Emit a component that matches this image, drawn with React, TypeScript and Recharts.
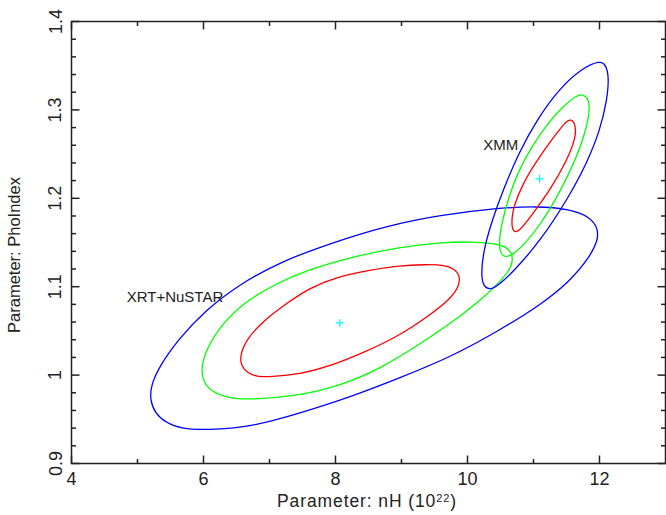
import { ComposedChart, Line, Scatter, XAxis, YAxis, ReferenceArea, ReferenceDot } from 'recharts';

// contour points: [nH, PhoIndex]
const xrtRed: [number, number][] = [
  [7.008, 0.998], [7.462, 1.001], [7.917, 1.01], [8.447, 1.026], [8.977, 1.045], [9.432, 1.068],
  [9.735, 1.086], [9.871, 1.1], [9.886, 1.112], [9.811, 1.12], [9.629, 1.125], [9.356, 1.125],
  [8.977, 1.124], [8.523, 1.119], [8.018, 1.111], [7.614, 1.099], [7.235, 1.08], [6.886, 1.06],
  [6.659, 1.041], [6.553, 1.023], [6.568, 1.01], [6.674, 1.002], [6.826, 0.998],
];
const xrtGreen: [number, number][] = [
  [6.705, 0.972], [7.462, 0.977], [8.068, 0.988], [8.674, 1.007], [9.28, 1.035], [9.811, 1.062],
  [10.265, 1.089], [10.538, 1.109], [10.674, 1.123], [10.689, 1.136], [10.598, 1.145], [10.402, 1.149],
  [10.038, 1.151], [9.583, 1.15], [8.977, 1.145], [8.265, 1.134], [7.614, 1.12], [7.083, 1.103],
  [6.629, 1.083], [6.28, 1.058], [6.053, 1.031], [5.962, 1.009], [5.992, 0.992], [6.129, 0.981],
  [6.371, 0.974],
];
const xrtBlue: [number, number][] = [
  [6.048, 0.938], [6.705, 0.941], [7.462, 0.957], [8.22, 0.975], [8.977, 0.997], [9.735, 1.02],
  [10.492, 1.051], [11.098, 1.079], [11.553, 1.106], [11.856, 1.134], [11.977, 1.153], [11.977, 1.166],
  [11.856, 1.179], [11.553, 1.188], [11.053, 1.191], [10.447, 1.189], [9.583, 1.181], [8.78, 1.169],
  [7.917, 1.149], [7.159, 1.128], [6.553, 1.103], [6.023, 1.073], [5.614, 1.04], [5.341, 1.011],
  [5.205, 0.989], [5.189, 0.972], [5.265, 0.957], [5.432, 0.946], [5.674, 0.939],
];
const xmmRed: [number, number][] = [
  [11.568, 1.29], [11.636, 1.284], [11.644, 1.269], [11.508, 1.243], [11.25, 1.209], [10.992, 1.183],
  [10.765, 1.16], [10.674, 1.163], [10.67, 1.178], [10.705, 1.192], [10.841, 1.217], [11.053, 1.243],
  [11.295, 1.268], [11.477, 1.286],
];
const xmmGreen: [number, number][] = [
  [11.75, 1.318], [11.826, 1.313], [11.856, 1.303], [11.811, 1.281], [11.659, 1.247], [11.417, 1.209],
  [11.098, 1.169], [10.871, 1.149], [10.689, 1.136], [10.568, 1.133], [10.492, 1.138], [10.477, 1.153],
  [10.523, 1.173], [10.614, 1.199], [10.765, 1.23], [10.962, 1.257], [11.205, 1.284], [11.447, 1.304],
  [11.644, 1.316],
];
const xmmBlue: [number, number][] = [
  [12.008, 1.356], [12.098, 1.351], [12.144, 1.337], [12.114, 1.311], [12.008, 1.277], [11.811, 1.24],
  [11.508, 1.198], [11.114, 1.153], [10.72, 1.119], [10.492, 1.103], [10.341, 1.096], [10.25, 1.1],
  [10.205, 1.111], [10.235, 1.139], [10.371, 1.175], [10.553, 1.212], [10.78, 1.252], [11.068, 1.291],
  [11.402, 1.325], [11.735, 1.347],
];
const bestFits: [number, number][] = [[8.065, 1.059], [11.093, 1.222]];

const xTicks = [4, 5, 6, 7, 8, 9, 10, 11, 12];
const xMajor = [4, 6, 8, 10, 12];
const yTicks = [
  0.9, 0.92, 0.94, 0.96, 0.98, 1, 1.02, 1.04, 1.06, 1.08, 1.1, 1.12, 1.14, 1.16, 1.18,
  1.2, 1.22, 1.24, 1.26, 1.28, 1.3, 1.32, 1.34, 1.36, 1.38, 1.4,
];
const yMajor = [0.9, 1, 1.1, 1.2, 1.3, 1.4];

const pts = (a: [number, number][]) => a.map(([x, y]) => ({ x, y }));

const LEFT = 71.5, RIGHT = 665.5, TOP = 21.5, BOTTOM = 463.5;
const INK = '#222';

function XTick({ x, payload }: any) {
  const major = xMajor.includes(payload.value);
  const len = major ? 8 : 4.5;
  return (
    <g>
      <line x1={x} x2={x} y1={BOTTOM} y2={BOTTOM - len} stroke={INK} strokeWidth={1.5} />
      <line x1={x} x2={x} y1={TOP} y2={TOP + len} stroke={INK} strokeWidth={1.5} />
      {major && (
        <text x={x} y={485} textAnchor="middle" fontSize={18} fill={INK}>{payload.value}</text>
      )}
    </g>
  );
}

function YTick({ y, payload }: any) {
  const major = yMajor.some((m) => Math.abs(m - payload.value) < 1e-6);
  const len = major ? 8 : 4.5;
  return (
    <g>
      <line x1={LEFT} x2={LEFT + len} y1={y} y2={y} stroke={INK} strokeWidth={1.5} />
      <line x1={RIGHT} x2={RIGHT - len} y1={y} y2={y} stroke={INK} strokeWidth={1.5} />
      {major && (
        <text x={61.5} y={y} transform={`rotate(-90 61.5 ${y})`} textAnchor="middle" fontSize={18} fill={INK}>
          {payload.value}
        </text>
      )}
    </g>
  );
}

const Cross = ({ cx, cy }: any) => (
  <g stroke="#00ffff" strokeWidth={1.2}>
    <line x1={cx - 4} x2={cx + 4} y1={cy} y2={cy} />
    <line x1={cx} x2={cx} y1={cy - 4} y2={cy + 4} />
  </g>
);

const Tag = (text: string) => ({ cx, cy }: any) => (
  <text x={cx} y={cy} fontSize={15} fill={INK}>{text}</text>
);

export default function App() {
  const contours = [
    { key: 'xrtBlue', data: xrtBlue, color: '#0000ff' },
    { key: 'xrtGreen', data: xrtGreen, color: '#00ff00' },
    { key: 'xrtRed', data: xrtRed, color: '#ff0000' },
    { key: 'xmmBlue', data: xmmBlue, color: '#0000ff' },
    { key: 'xmmGreen', data: xmmGreen, color: '#00ff00' },
    { key: 'xmmRed', data: xmmRed, color: '#ff0000' },
  ];
  return (
    <div style={{ position: 'absolute', left: 0, top: 0, fontFamily: '"Liberation Sans", Arial, sans-serif' }}>
      <ComposedChart width={666} height={515} margin={{ top: TOP, right: 666 - RIGHT, bottom: 0, left: 0 }}>
        <XAxis
          type="number"
          dataKey="x"
          domain={[4, 13]}
          ticks={xTicks}
          interval={0}
          height={515 - BOTTOM}
          axisLine={false}
          tickLine={false}
          tick={<XTick />}
          allowDataOverflow
          label={{
            content: () => (
              <text x={367} y={506.5} textAnchor="middle" fontSize={17.5} letterSpacing={0.9} fill={INK}>
                Parameter: nH (10
                <tspan dy={-4.5} fontSize={11}>22</tspan>
                <tspan dy={4.5}>)</tspan>
              </text>
            ),
          }}
        />
        <YAxis
          type="number"
          dataKey="y"
          domain={[0.9, 1.4]}
          ticks={yTicks}
          interval={0}
          width={LEFT}
          axisLine={false}
          tickLine={false}
          tick={<YTick />}
          allowDataOverflow
          label={{
            content: () => (
              <text x={20} y={255} transform="rotate(-90 20 255)" textAnchor="middle" fontSize={16.5} fill={INK}>
                Parameter: PhoIndex
              </text>
            ),
          }}
        />
        {contours.map((c) => (
          <Line
            key={c.key}
            data={pts(c.data)}
            dataKey="y"
            type="basisClosed"
            stroke={c.color}
            strokeWidth={1.3}
            dot={false}
            activeDot={false}
            isAnimationActive={false}
          />
        ))}
        <Scatter data={pts(bestFits)} dataKey="y" shape={<Cross />} isAnimationActive={false} />
        <ReferenceDot x={4.836} y={1.083} r={0} shape={Tag('XRT+NuSTAR')} />
        <ReferenceDot x={10.239} y={1.255} r={0} shape={Tag('XMM')} />
        <ReferenceArea x1={4} x2={13} y1={0.9} y2={1.4} fill="none" stroke={INK} strokeWidth={1.5} ifOverflow="visible" />
      </ComposedChart>
    </div>
  );
}
